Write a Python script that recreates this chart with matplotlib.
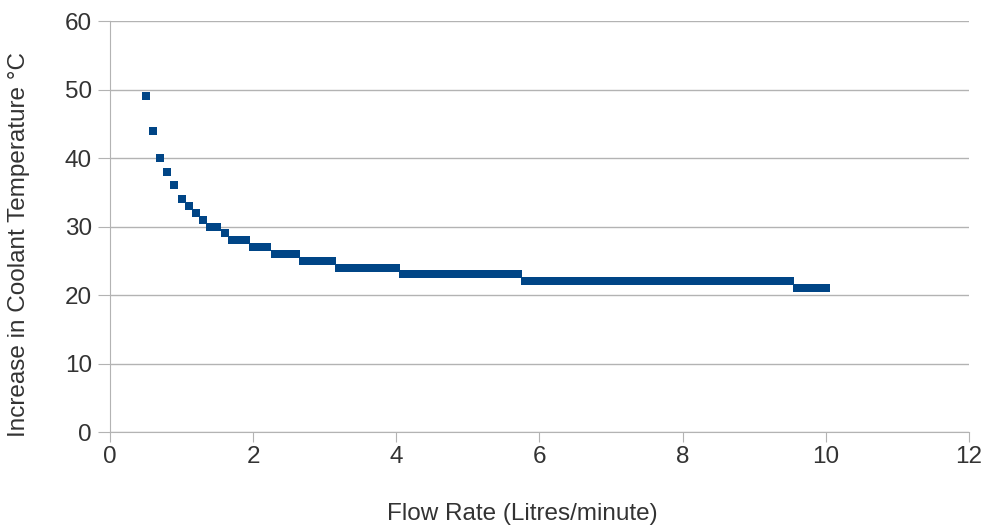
import numpy as np
import matplotlib.pyplot as plt

plt.rcParams['font.family'] = ['Liberation Sans', 'DejaVu Sans']

# Flow rate (L/min) and temperature rise (°C), rounded readings
flow = np.round(np.arange(0.5, 10.01, 0.1), 1)
temp_early = [49, 44, 40, 38, 36, 34, 33, 32, 31, 30, 30, 29, 28, 28, 28, 27, 27, 27]
temp_steps = [(26, 4), (25, 5), (24, 9), (23, 17), (22, 38), (21, 5)]
temp = list(temp_early)
for value, count in temp_steps:
    temp += [value] * count

fig = plt.figure(figsize=(9.89, 5.26), dpi=100)
ax = fig.add_axes([0.1112, 0.1787, 0.8686, 0.7813])

ax.scatter(flow, temp[:len(flow)], marker='s', s=34, color='#004586', linewidths=0, zorder=3)

ax.set_xlim(0, 12)
ax.set_ylim(0, 60)
ax.set_xticks(range(0, 13, 2))
ax.set_yticks(range(0, 61, 10))
ax.yaxis.grid(True, color='#b3b3b3', linewidth=1)
ax.set_axisbelow(True)

for side in ['top', 'right']:
    ax.spines[side].set_visible(False)
for side in ['left', 'bottom']:
    ax.spines[side].set_color('#b3b3b3')
ax.tick_params(colors='#b3b3b3', labelcolor='#333333', labelsize=17.5)
ax.tick_params(axis='x', length=7, pad=3)
ax.tick_params(axis='y', length=9, pad=4)

ax.set_xlabel('Flow Rate (Litres/minute)', fontsize=17.5, color='#333333')
ax.set_ylabel('Increase in Coolant Temperature °C', fontsize=17.5, color='#333333')
ax.xaxis.set_label_coords(0.48, -0.2)
ax.yaxis.set_label_coords(-0.106, 0.457)
ax.xaxis.label.set_va('center')
ax.yaxis.label.set_va('center')

fig.savefig('out.png', dpi=100)
